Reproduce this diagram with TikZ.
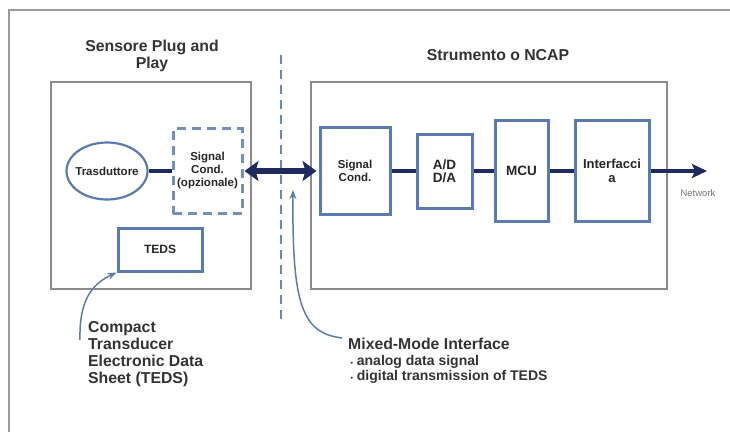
\documentclass[tikz,border=0pt]{standalone}
\usepackage{fontspec}
\setmainfont{Liberation Sans}
\usetikzlibrary{arrows.meta}
\usetikzlibrary{shapes.geometric}
\definecolor{boxblue}{HTML}{5B7AB3}
\definecolor{navy}{HTML}{1F2B5C}
\definecolor{noteblue}{HTML}{5E7BAE}
\definecolor{framegray}{HTML}{9A9A9A}
\definecolor{textgray}{HTML}{333333}

\begin{document}
\begin{tikzpicture}[x=1pt,y=-1pt,>=Stealth,
      block/.style={draw=boxblue,line width=3pt,align=center,inner sep=0pt,
        font=\fontsize{11.5}{13}\selectfont\bfseries,text=black!85},
      group/.style={draw=black!45,line width=1.2pt,inner sep=0pt},
      title/.style={font=\fontsize{15.8}{17}\selectfont\bfseries,text=textgray,align=center},
      note/.style={font=\fontsize{15.8}{17}\selectfont\bfseries,text=textgray,align=left,
        inner sep=0pt,anchor=north west}]
    \useasboundingbox (0,0) rectangle (730,432);
    \draw[framegray,line width=2pt] (9,432) -- (9,10) -- (730,10);

    % the two sides
    \node[group,minimum width=200,minimum height=207] (sensor) at (151,185.5) {};
    \node[group,minimum width=356,minimum height=207] (ncap)   at (489,185.5) {};
    \node[title] (senstitle) at (152,55.5) {Sensore Plug and\\Play};
    \node[title] (ncaptitle) at (498,55) {Strumento o NCAP};

    \coordinate (divtop) at (281,55);
    \coordinate (divbot) at (281,321);
    \draw[draw=boxblue!90,line width=2.5pt,dash pattern=on 9pt off 6pt] (divtop) -- (divbot);

    % blocks
    \node[block,ellipse,line width=2.2pt,inner xsep=-10pt,minimum width=81,minimum height=57] (trasd) at (107,171) {Trasduttore};
    \node[block,dash pattern=on 9pt off 6pt,draw=boxblue!85,minimum width=69,minimum height=85] (optcond) at (207.5,171) {Signal\\Cond.\\(opzionale)};
    \node[block,font=\fontsize{12}{13}\selectfont\bfseries,minimum width=84,minimum height=43] (teds) at (160,249.5) {TEDS};
    \node[block,minimum width=70,minimum height=87] (sigcond) at (355,171) {Signal\\Cond.};
    \node[block,font=\fontsize{13.5}{12.5}\selectfont\bfseries,minimum width=55,minimum height=74] (adda) at (444.5,171) {A/D\\D/A};
    \node[block,font=\fontsize{13.5}{14}\selectfont\bfseries,minimum width=53,minimum height=101] (mcu) at (521.5,171) {MCU};
    \node[block,font=\fontsize{13}{14}\selectfont\bfseries,minimum width=74,minimum height=101] (iface) at (612,171) {Interfacci\\a};
    \coordinate (net) at (707,171);
    \node[font=\fontsize{9.5}{10}\selectfont,text=black!55] (netlabel) at (698,193) {Network};

    \path[every edge/.style={draw=navy,line width=3.5pt}]
         (trasd) edge (optcond)
         (sigcond) edge (adda)
         (adda) edge (mcu)
         (mcu) edge (iface)
         (iface) edge [-{Stealth[length=15pt,width=14pt,inset=3pt]}] (net)
         (optcond) edge [{Stealth[length=14pt,width=20pt,inset=3pt]}-{Stealth[length=14pt,width=20pt,inset=3pt]},
                         line width=6pt,shorten <=1pt,shorten >=2pt] (sigcond);

    % notes
    \node[note] (tedsnote) at (88,321) {Compact\\Transducer\\Electronic Data\\Sheet (TEDS)};
    \node[note,font=\fontsize{15.8}{15.5}\selectfont\bfseries] (mmnote) at (348,338)
         {Mixed-Mode Interface\\
          {\fontsize{14}{15.5}\selectfont\,{\fontsize{7}{7}\selectfont\textbullet}\ analog data signal}\\
          {\fontsize{14}{15.5}\selectfont\,{\fontsize{7}{7}\selectfont\textbullet}\ digital transmission of TEDS}};
    \coordinate (tedsfoot) at (80,340);
    \coordinate (mmfoot) at (342,338);
    \coordinate (mmtip) at (293,190);
    \draw[noteblue,line width=1.5pt,-{Stealth[length=9pt,width=7pt]}]
         (tedsfoot) .. controls (79,300) and (92,284) .. (teds.south west);
    \draw[noteblue,line width=1.5pt,-{Stealth[length=9pt,width=7pt]}]
         (mmfoot) .. controls (302,333) and (292,305) .. (mmtip);
\end{tikzpicture}
\end{document}
